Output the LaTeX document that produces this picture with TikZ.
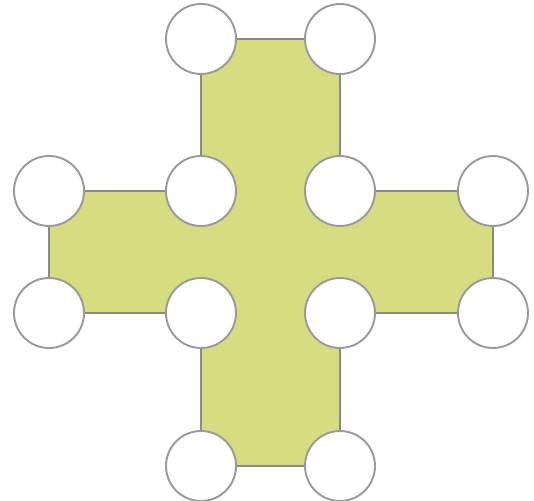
\documentclass[tikz,border=0pt]{standalone}
\usepackage{tikz}
\usetikzlibrary{
  backgrounds,
}
\definecolor{crossfill}{HTML}{D7DC80}
\definecolor{crossline}{HTML}{8A8A80}
\definecolor{ringline}{HTML}{9A9A9A}
\tikzset{
  ring/.style={
    shape=circle,
    draw=ringline,
    line width=1.1pt,
    fill=white,
    minimum size=1.4cm,
    inner sep=0pt,
  },
  crossbody/.style={
    draw=crossline,
    fill=crossfill,
    line width=0.9pt,
  },
}
\begin{document}
\begin{tikzpicture}[x=1cm,y=1cm]
  \useasboundingbox (0,0) rectangle (10.68,10.02);

  % --- corner rings ---
  \node[ring] (A1) at (4.02,9.24) {};
  \node[ring] (A2) at (6.80,9.24) {};
  \foreach \n/\x in {1/0.98, 2/4.02, 3/6.80, 4/9.86} {
    \node[ring] (B\n) at (\x,6.20) {};
    \node[ring] (C\n) at (\x,3.76) {};
  }
  \node[ring] (D1) at (4.02,0.70) {};
  \node[ring] (D2) at (6.80,0.70) {};

  % --- cross ---
  \begin{scope}[on background layer]
    \draw[crossbody] (A1.center) -- (A2.center) -- (B3.center) -- (B4.center)
      -- (C4.center) -- (C3.center) -- (D2.center) -- (D1.center)
      -- (C2.center) -- (C1.center) -- (B1.center) -- (B2.center) -- cycle;
  \end{scope}
\end{tikzpicture}
\end{document}
